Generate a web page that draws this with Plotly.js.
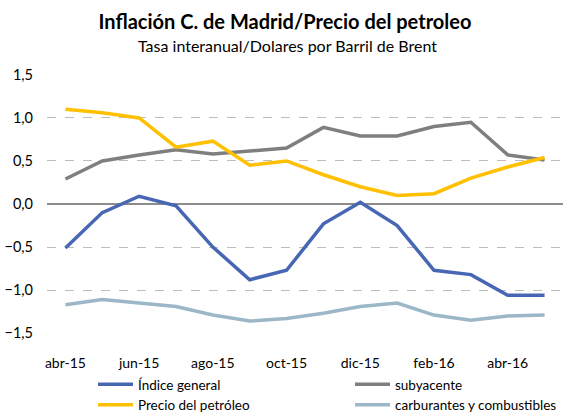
<!DOCTYPE html>
<html>
<head>
<meta charset="utf-8">
<script src="https://cdn.plot.ly/plotly-3.0.1.min.js"></script>
<style>html,body{margin:0;padding:0;background:#fff;}#chart{width:571px;height:412px;}</style>
</head>
<body>
<div id="chart"></div>
<script>
var months = ["abr-15","may-15","jun-15","jul-15","ago-15","sep-15","oct-15","nov-15","dic-15","ene-16","feb-16","mar-16","abr-16","may-16"];
var tickLabels = ["abr-15","jun-15","ago-15","oct-15","dic-15","feb-16","abr-16"];
var indiceGeneral = [-0.51,-0.10,0.09,-0.02,-0.50,-0.88,-0.77,-0.23,0.02,-0.25,-0.77,-0.82,-1.06,-1.06];
var subyacente = [0.29,0.50,0.57,0.63,0.58,0.62,0.65,0.89,0.79,0.79,0.90,0.95,0.57,0.51];
var petroleo = [1.10,1.06,1.00,0.66,0.73,0.45,0.50,0.34,0.20,0.10,0.12,0.30,0.43,0.54];
var carburantes = [-1.17,-1.11,-1.15,-1.19,-1.29,-1.36,-1.33,-1.27,-1.19,-1.15,-1.29,-1.35,-1.30,-1.29];

var FONT = "Lato, 'Open Sans', sans-serif";
function tr(name, y, color, lg) {
  return {x: months, y: y, name: name, type: "scatter", mode: "lines", legend: lg,
          line: {color: color, width: 3.5}, hoverinfo: "skip"};
}
var data = [
  tr("Índice general", indiceGeneral, "#4767B5", "legend"),
  tr("subyacente", subyacente, "#7F7F7F", "legend2"),
  tr("Precio del petróleo", petroleo, "#FFC000", "legend"),
  tr("carburantes y combustibles", carburantes, "#9BB7C8", "legend2")
];
function lgd(px) {
  return {orientation: "v", xref: "paper", yref: "paper", x: (px - 47) / 516, y: (334 - 369) / 260,
          xanchor: "left", yanchor: "top", font: {family: FONT, size: 13.5}, itemwidth: 35,
          tracegroupgap: 0, bgcolor: "rgba(0,0,0,0)", borderwidth: 0, traceorder: "normal"};
}
var layout = {
  width: 571, height: 412,
  margin: {l: 47, r: 8, t: 74, b: 78, autoexpand: false},
  paper_bgcolor: "#fff", plot_bgcolor: "#fff",
  separators: ", ",
  font: {family: FONT, size: 13, color: "#000"},
  title: {text: "<b>Inflación C. de Madrid/Precio del petroleo</b>", font: {family: FONT, size: 20, color: "#000"},
          x: 285/571, xref: "container", xanchor: "center", y: 1 - 22/412, yref: "container", yanchor: "middle"},
  annotations: [{text: "Tasa interanual/Dolares por Barril de Brent", xref: "paper", yref: "paper",
                 x: (287 - 47) / 516, y: (334 - 46) / 260, xanchor: "center", yanchor: "middle", showarrow: false,
                 font: {family: FONT, size: 16, color: "#000"}}],
  xaxis: {type: "category", range: [-0.5, 13.5], tickmode: "array", tickvals: tickLabels, ticktext: tickLabels,
          showgrid: false, zeroline: false, showline: false, ticks: "", ticklen: 0, ticklabelstandoff: 19,
          tickfont: {family: FONT, size: 14}, fixedrange: true, automargin: false},
  yaxis: {range: [-1.51, 1.51], dtick: 0.5, tick0: 0, tickformat: ".1f",
          showgrid: true, gridcolor: "#BDBDBD", griddash: "dash", gridwidth: 1,
          zeroline: true, zerolinecolor: "#8C8C8C", zerolinewidth: 1.3,
          showline: false, ticks: "", ticklabelstandoff: 13,
          tickfont: {family: FONT, size: 14.5}, fixedrange: true, automargin: false},
  showlegend: true,
  legend: lgd(93),
  legend2: lgd(350)
};
Plotly.newPlot("chart", data, layout, {displayModeBar: false, staticPlot: true});
</script>
</body>
</html>
